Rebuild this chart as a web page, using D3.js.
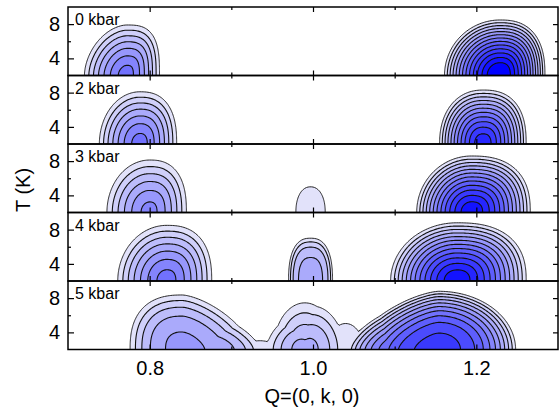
<!DOCTYPE html>
<html>
<head>
<meta charset="utf-8">
<script src="https://cdn.jsdelivr.net/npm/d3@7"></script>
<style>
  body { margin: 0; background: #fff; }
  text { font-family: "Liberation Sans", Arial, sans-serif; fill: #000; }
</style>
</head>
<body>
<svg id="chart" width="559" height="413"></svg>
<script>
// panels, top to bottom
const panelLabels = ["0 kbar", "2 kbar", "3 kbar", "4 kbar", "5 kbar"];
const xMajor = [0.8, 1.0, 1.2];
const xMinor = [0.9, 1.1];
const yMajor = [4, 8];
const yMinor = [6];
const levels = d3.range(1, 14); // contour levels 1..13

// one entry per peak:
// centre Q, height in contour levels, half widths in Q, extent in T above 2 K,
// outline squareness on each side and profile exponent
const peakPanel = [0, 0, 1, 1, 2, 2, 2, 3, 3, 3, 4, 4, 4, 4, 4];
const peakQ     = [0.772, 1.229, 0.788, 1.208, 0.800, 0.997, 1.194, 0.821, 0.997, 1.176, 0.840, 0.990, 1.154, 0.935, 1.040];
const peakAmp   = [7.6, 14.5, 7.6, 11.9, 6.5, 1.5, 13, 7.6, 4.3, 13, 5.25, 4.3, 10.4, 1.25, 1.4];
const peakWL    = [0.057, 0.0713, 0.0545, 0.0562, 0.0585, 0.0374, 0.0707, 0.066, 0.0288, 0.0854, 0.0696, 0.0455, 0.110, 0.06, 0.05];
const peakWR    = [0.044, 0.0577, 0.0495, 0.0562, 0.0503, 0.0374, 0.076, 0.0604, 0.0288, 0.0897, 0.093, 0.0455, 0.098, 0.06, 0.05];
const peakTH    = [6.48, 6.8, 6.7, 6.68, 6.85, 6.24, 6.96, 7.14, 5.34, 7.17, 6.93, 6.5, 7.08, 3, 7];
const peakNL    = [1.8, 2, 2, 2.2, 2, 2.2, 2, 2, 2.5, 2, 2.5, 2, 1.5, 2, 2];
const peakNR    = [3, 2.5, 2.5, 2.5, 2.5, 2.2, 2.5, 2.5, 2.5, 2.5, 1.5, 2, 2, 2, 2];
const peakP     = [1.5, 1.5, 1.5, 1.5, 1.5, 1.5, 1.5, 1.5, 4, 1.5, 2.5, 1.5, 2.5, 1.5, 1.5];

const svg = d3.select("#chart");
const left = 68, right = 558, top0 = 7, panelH = 68.5;

const x = d3.scaleLinear().domain([0.7, 1.3]).range([left, right]);
const color = d3.scaleLinear().domain([1, 13]).range(["#e2e2fa", "#0000ff"]);

// grid for the contour generator
const q0 = 0.69, dq = 0.002, nx = 311;
const t0 = 1.5, dt = 0.1, ny = 91;

function intensity(p, q, t) {
  let s = 0;
  peakPanel.forEach((pp, i) => {
    if (pp !== p) return;
    const d = q - peakQ[i];
    const u = Math.abs(d) / (d < 0 ? peakWL[i] : peakWR[i]);
    const v = Math.max(0, t - 2) / peakTH[i];
    const n = d < 0 ? peakNL[i] : peakNR[i];
    const r = Math.pow(Math.pow(u, n) + Math.pow(v, n), 1 / n);
    if (r < 1) s += peakAmp[i] * (1 - Math.pow(r, peakP[i]));
  });
  return s;
}

panelLabels.forEach((label, p) => {
  const top = top0 + p * panelH;
  const y = d3.scaleLinear().domain([2, 10]).range([top + panelH, top]);

  const values = new Array(nx * ny);
  for (let j = 0; j < ny; j++) {
    for (let i = 0; i < nx; i++) {
      values[j * nx + i] = intensity(p, q0 + i * dq, t0 + j * dt);
    }
  }
  const contours = d3.contours().size([nx, ny]).thresholds(levels)(values);

  const proj = d3.geoTransform({
    point(cx, cy) {
      this.stream.point(x(q0 + (cx - 0.5) * dq), y(t0 + (cy - 0.5) * dt));
    }
  });
  const path = d3.geoPath(proj);

  svg.append("clipPath").attr("id", "clip" + p)
    .append("rect").attr("x", left).attr("y", top)
    .attr("width", right - left).attr("height", panelH);

  svg.append("g").attr("clip-path", `url(#clip${p})`)
    .selectAll("path")
    .data(contours.filter(c => c.coordinates.length))
    .join("path")
    .attr("d", path)
    .attr("fill", d => color(d.value))
    .attr("stroke", "#111")
    .attr("stroke-width", d => d.value === 1 ? 0.9 : 1.1)
    .attr("stroke-linejoin", "round");

  // ticks, all pointing inward
  const g = svg.append("g");
  g.append("g").attr("transform", `translate(0,${top + panelH})`)
    .call(d3.axisBottom(x).tickValues(xMajor).tickSizeInner(-5).tickSizeOuter(0)
      .tickPadding(11).tickFormat(p === 4 ? d3.format(".1f") : ""));
  g.append("g").attr("transform", `translate(0,${top + panelH})`)
    .call(d3.axisBottom(x).tickValues(xMinor).tickSize(-3).tickFormat(""));
  g.append("g").attr("transform", `translate(0,${top})`)
    .call(d3.axisTop(x).tickValues(xMajor).tickSize(-5).tickFormat(""));
  g.append("g").attr("transform", `translate(0,${top})`)
    .call(d3.axisTop(x).tickValues(xMinor).tickSize(-3).tickFormat(""));
  g.append("g").attr("transform", `translate(${left},0)`)
    .call(d3.axisLeft(y).tickValues(yMajor).tickSizeInner(-6).tickSizeOuter(0).tickPadding(8));
  g.append("g").attr("transform", `translate(${left},0)`)
    .call(d3.axisLeft(y).tickValues(yMinor).tickSize(-3).tickFormat(""));
  g.append("g").attr("transform", `translate(${right},0)`)
    .call(d3.axisRight(y).tickValues(yMajor).tickSize(-5).tickFormat(""));
  g.append("g").attr("transform", `translate(${right},0)`)
    .call(d3.axisRight(y).tickValues(yMinor).tickSize(-3).tickFormat(""));
  g.selectAll(".domain").remove();
  g.selectAll(".tick line").attr("stroke", "#000").attr("stroke-width", 1.2);
  g.selectAll(".tick text").attr("font-size", 20).attr("font-family", "Liberation Sans, Arial, sans-serif");

  svg.append("rect").attr("x", left).attr("y", top)
    .attr("width", right - left).attr("height", panelH)
    .attr("fill", "none").attr("stroke", "#000").attr("stroke-width", 1.5);

  svg.append("text").attr("x", 75).attr("y", top + 18)
    .attr("font-size", 16).text(label);
});

svg.append("text")
  .attr("transform", "translate(30,190) rotate(-90)")
  .attr("text-anchor", "middle").attr("font-size", 20)
  .text("T (K)");

svg.append("text")
  .attr("x", 312).attr("y", 403)
  .attr("text-anchor", "middle").attr("font-size", 20)
  .text("Q=(0, k, 0)");
</script>
</body>
</html>
